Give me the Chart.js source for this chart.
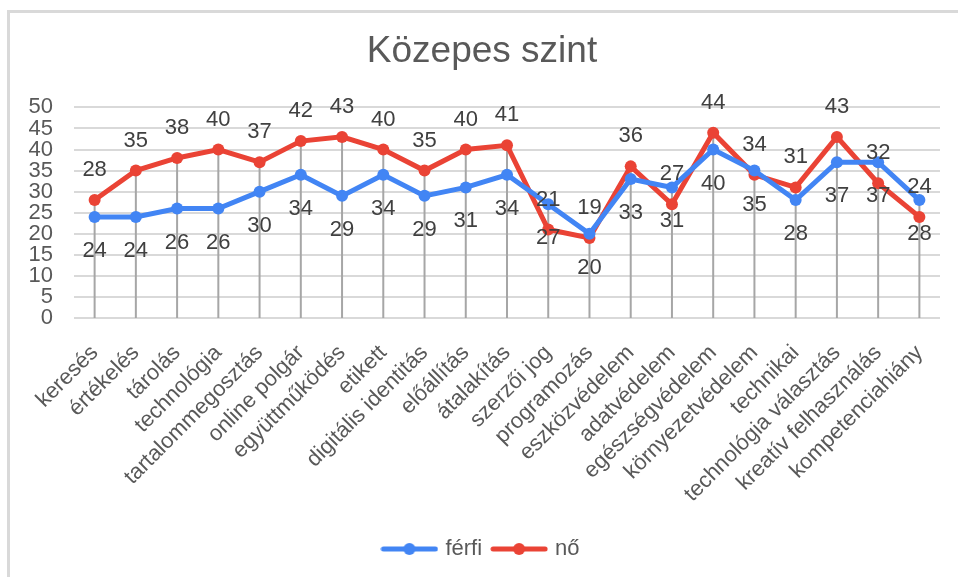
<!DOCTYPE html>
<html>
<head>
<meta charset="utf-8">
<script src="https://cdn.jsdelivr.net/npm/chart.js@4.4.1/dist/chart.umd.min.js"></script>
<style>
  html, body { margin: 0; padding: 0; background: #fff; }
  #wrap { position: relative; width: 958px; height: 577px; }
  #frame { position: absolute; left: 7px; top: 10px; right: 0; bottom: 0;
           border-top: 3px solid #d9d9d9; border-left: 3px solid #d9d9d9; pointer-events: none; }
</style>
</head>
<body>
<div id="wrap">
  <canvas id="myChart" width="958" height="577"></canvas>
  <div id="frame"></div>
</div>
<script>
const categories = ['keresés', 'értékelés', 'tárolás', 'technológia', 'tartalommegosztás', 'online polgár',
  'együttműködés', 'etikett', 'digitális identitás', 'előállítás', 'átalakítás', 'szerzői jog', 'programozás',
  'eszközvédelem', 'adatvédelem', 'egészségvédelem', 'környezetvédelem', 'technikai', 'technológia választás',
  'kreatív felhasználás', 'kompetenciahiány']
const ferfi = [24, 24, 26, 26, 30, 34, 29, 34, 29, 31, 34, 27, 20, 33, 31, 40, 35, 28, 37, 37, 28]
const no = [28, 35, 38, 40, 37, 42, 43, 40, 35, 40, 41, 21, 19, 36, 27, 44, 34, 31, 43, 32, 24]
const yTicks = [0, 5, 10, 15, 20, 25, 30, 35, 40, 45, 50]

const BLUE = '#4285f4'
const RED = '#ea4335'
const FONT = "'Liberation Sans', Arial, sans-serif"

// legend marker: line with a dot in the middle
function legendIcon(color) {
  const c = document.createElement('canvas')
  c.width = 58; c.height = 14
  const g = c.getContext('2d')
  g.strokeStyle = color; g.lineWidth = 5; g.lineCap = 'round'
  g.beginPath(); g.moveTo(3, 7); g.lineTo(55, 7); g.stroke()
  g.fillStyle = color
  g.beginPath(); g.arc(29, 7, 6, 0, Math.PI * 2); g.fill()
  return c
}
const icons = [legendIcon(BLUE), legendIcon(RED)]

// gray drop lines from the highest point down to zero
const dropLines = {
  id: 'dropLines',
  beforeDatasetsDraw(chart) {
    const ctx = chart.ctx
    const x = chart.scales.x, y = chart.scales.y
    ctx.save()
    ctx.strokeStyle = '#a6a6a6'
    ctx.lineWidth = 2
    categories.forEach((c, i) => {
      const top = Math.max(ferfi[i], no[i])
      const px = x.getPixelForValue(i)
      ctx.beginPath()
      ctx.moveTo(px, y.getPixelForValue(top))
      ctx.lineTo(px, y.getPixelForValue(0))
      ctx.stroke()
    })
    ctx.restore()
  }
}

// value labels: férfi below, nő above
const valueLabels = {
  id: 'valueLabels',
  afterDatasetsDraw(chart) {
    const ctx = chart.ctx
    ctx.save()
    ctx.font = '22px ' + FONT
    ctx.fillStyle = '#404040'
    ctx.textAlign = 'center'
    ctx.textBaseline = 'middle'
    chart.data.datasets.forEach((ds, d) => {
      const meta = chart.getDatasetMeta(d)
      meta.data.forEach((pt, i) => {
        const off = d === 0 ? 34 : -30
        ctx.fillText(ds.data[i], pt.x, pt.y + off)
      })
    })
    ctx.restore()
  }
}

var ctx = document.getElementById('myChart')
var myChart = new Chart(ctx, {
  type: 'line',
  data: {
    labels: categories,
    datasets: [{
      label: 'férfi',
      data: ferfi,
      borderColor: BLUE,
      backgroundColor: BLUE,
      borderWidth: 5,
      pointRadius: 6,
      pointBorderWidth: 0,
      tension: 0
    }, {
      label: 'nő',
      data: no,
      borderColor: RED,
      backgroundColor: RED,
      borderWidth: 5,
      pointRadius: 6,
      pointBorderWidth: 0,
      tension: 0
    }]
  },
  options: {
    responsive: false,
    animation: false,
    layout: { padding: { top: 18, left: 24, right: 18, bottom: 7 } },
    plugins: {
      title: {
        display: true,
        text: 'Közepes szint',
        color: '#595959',
        font: { family: FONT, size: 37, weight: 'normal' },
        padding: { top: 12, bottom: 33 }
      },
      legend: {
        position: 'bottom',
        labels: {
          color: '#595959',
          font: { family: FONT, size: 22 },
          usePointStyle: true,
          pointStyleWidth: 50,
          padding: 12,
          generateLabels: (chart) => Chart.defaults.plugins.legend.labels.generateLabels(chart)
            .map((l, i) => Object.assign(l, { pointStyle: icons[i] }))
        }
      },
      tooltip: { enabled: false }
    },
    scales: {
      x: {
        offset: true,
        grid: { display: false },
        border: { display: false },
        ticks: {
          color: '#595959',
          font: { family: FONT, size: 22 },
          minRotation: 45,
          maxRotation: 45,
          autoSkip: false,
          padding: 14
        },
        afterFit: (s) => { s.height = 208 }
      },
      y: {
        min: 0,
        max: 50,
        afterBuildTicks: (s) => { s.ticks = yTicks.map(v => ({ value: v })) },
        grid: { color: '#d9d9d9', lineWidth: 2, drawTicks: false },
        border: { display: false },
        ticks: {
          color: '#595959',
          font: { family: FONT, size: 22 },
          padding: 21,
          autoSkip: false
        },
        afterFit: (s) => { s.width = 50 }
      }
    }
  },
  plugins: [dropLines, valueLabels]
})
</script>
</body>
</html>
